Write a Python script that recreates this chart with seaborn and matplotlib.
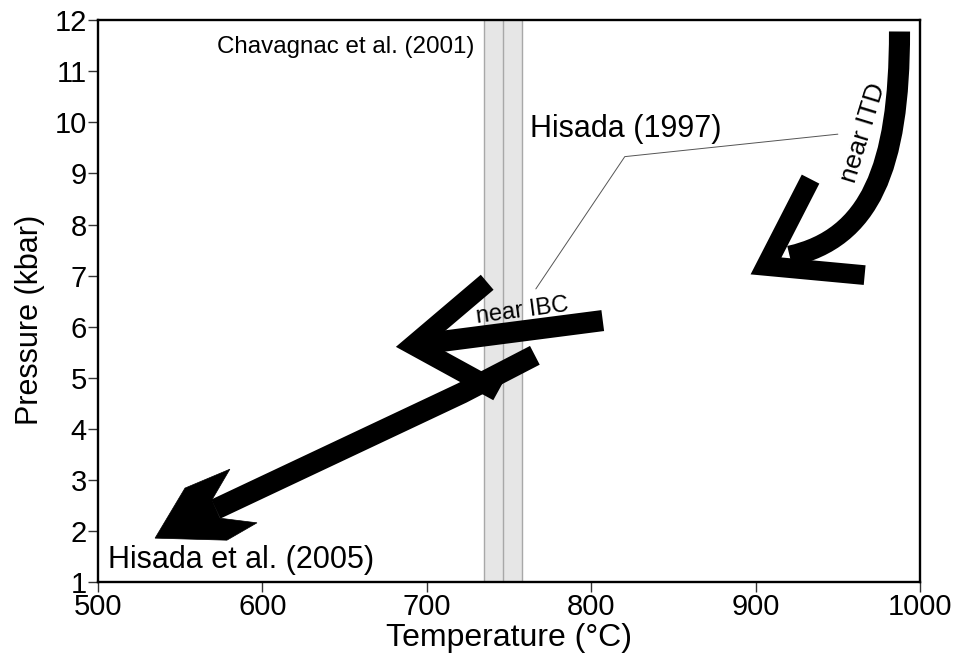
import matplotlib
matplotlib.use("Agg")
import matplotlib.pyplot as plt
from matplotlib.path import Path
from matplotlib.patches import PathPatch, Polygon
import pandas as pd
import seaborn as sns

# Axis ticks
T_TICKS = [500, 600, 700, 800, 900, 1000]
P_TICKS = list(range(1, 13))

# Chavagnac et al. (2001) temperature estimate (°C)
band_T = [734.5, 757.9]
band_mid_T = 746.5

# Hisada et al. (2005) retrograde P-T path
hisada05_T = [571.7, 721.3, 765.7]
hisada05_P = [2.43, 4.70, 5.44]
hisada05_head_T = [534.7, 552.9, 580.2, 569.3, 574.2, 596.7, 578.4]
hisada05_head_P = [1.86, 2.84, 3.21, 2.61, 2.25, 2.16, 1.82]

# Path near IBC
ibc_T = [691.7, 807.0]
ibc_P = [5.64, 6.12]
ibc_head_T = [736.7, 691.7, 743.3]
ibc_head_P = [6.87, 5.64, 4.73]

# Path near ITD (cubic curve: start, two controls, end)
itd_T = [987.5, 987.5, 969.3, 920.7]
itd_P = [11.78, 9.10, 7.73, 7.38]
itd_head_T = [933.4, 906.3, 966.3]
itd_head_P = [8.89, 7.19, 7.01]

# Leader line for Hisada (1997)
leader_T = [950.0, 820.4, 766.3]
leader_P = [9.77, 9.33, 6.74]

sns.set_theme(style="white")
plt.rcParams["font.family"] = ["Liberation Sans", "DejaVu Sans"]
plt.rcParams["text.color"] = "black"
plt.rcParams["axes.labelcolor"] = "black"
plt.rcParams["xtick.color"] = "black"
plt.rcParams["ytick.color"] = "black"

fig = plt.figure(figsize=(9.6, 6.54), dpi=100)
ax = fig.add_axes([0.1021, 0.110, 0.8563, 0.859])

# temperature band with its bounds and centre value
ax.axvspan(band_T[0], band_T[1], facecolor="#e6e6e6", edgecolor="none", zorder=1)
for t in band_T + [band_mid_T]:
    ax.axvline(t, color="#a8a8a8", lw=1.0, zorder=1.5)

SHAFT = 15.2   # pt
BARB = 14.2    # pt


def thick_line(T, P, lw, join="miter"):
    df = pd.DataFrame({"T": T, "P": P})
    sns.lineplot(data=df, x="T", y="P", sort=False, estimator=None, ax=ax,
                 color="black", lw=lw, solid_capstyle="butt",
                 solid_joinstyle=join, zorder=3)


# Hisada et al. (2005)
thick_line(hisada05_T, hisada05_P, SHAFT, join="round")
ax.add_patch(Polygon(list(zip(hisada05_head_T, hisada05_head_P)), closed=True,
                     facecolor="black", edgecolor="black", lw=0.5, zorder=3))

# near IBC
thick_line(ibc_T, ibc_P, SHAFT)
thick_line(ibc_head_T, ibc_head_P, BARB)

# near ITD
itd_path = Path(list(zip(itd_T, itd_P)),
                [Path.MOVETO, Path.CURVE4, Path.CURVE4, Path.CURVE4])
ax.add_patch(PathPatch(itd_path, facecolor="none", edgecolor="black", lw=SHAFT,
                       capstyle="butt", zorder=3))
thick_line(itd_head_T, itd_head_P, BARB)

# leader line
ax.plot(leader_T, leader_P, color="#555555", lw=0.7, zorder=2)

# labels
ax.text(572.3, 11.47, "Chavagnac et al. (2001)", fontsize=17.4, ha="left", va="center", zorder=4)
ax.text(762.6, 9.87, "Hisada (1997)", fontsize=22, ha="left", va="center", zorder=4)
ax.text(506.0, 1.43, "Hisada et al. (2005)", fontsize=22, ha="left", va="center", zorder=4)
ax.text(757.8, 6.30, "near IBC", fontsize=17, rotation=7.5, ha="center", va="center",
        rotation_mode="anchor", zorder=4)
ax.text(965.5, 9.80, "near ITD", fontsize=19, rotation=73, ha="center", va="center",
        rotation_mode="anchor", zorder=4)

ax.set_xlim(500, 1000)
ax.set_ylim(1, 12)
ax.set_xticks(T_TICKS)
ax.set_yticks(P_TICKS)
ax.tick_params(axis="both", which="major", direction="out", length=7, width=1.0,
               color="#333333", labelsize=21, pad=1, bottom=True, left=True)
for sp in ax.spines.values():
    sp.set_color("black")
    sp.set_linewidth(1.7)
ax.set_xlabel("Temperature (°C)", fontsize=23)
ax.set_ylabel("Pressure (kbar)", fontsize=22)
ax.xaxis.set_label_coords(0.5, -0.073)
ax.yaxis.set_label_coords(-0.065, 0.466)

fig.savefig("out.png", dpi=100)
